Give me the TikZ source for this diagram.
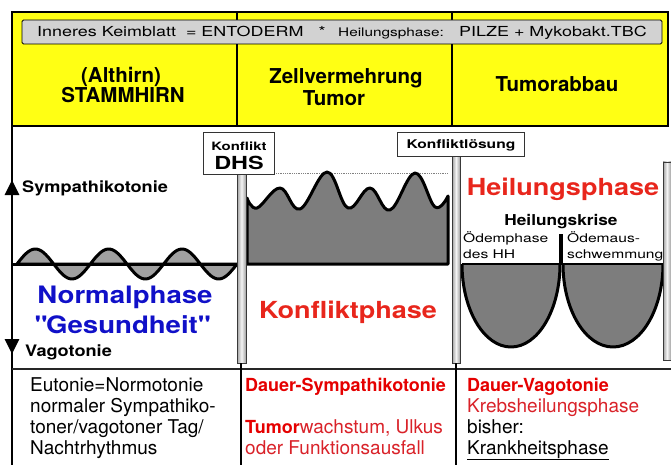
\documentclass[tikz,border=0pt]{standalone}
\usepackage{fontspec}
\setmainfont{TeX Gyre Heros}
\newfontfamily\widefont{TeX Gyre Heros}[FakeStretch=1.3]
\newfontfamily\semiwide{TeX Gyre Heros}[FakeStretch=1.15]
\usetikzlibrary{arrows.meta}

\definecolor{hdryellow}{HTML}{FFFF14}
\definecolor{bannergray}{HTML}{D2D2D2}
\definecolor{phasered}{HTML}{E8261C}
\definecolor{textred}{HTML}{D92229}
\definecolor{phaseblue}{HTML}{1010C8}
\definecolor{wavegray}{HTML}{A0A0A0}
\definecolor{massgray}{HTML}{7D7D7D}

\tikzset{
  hdr/.style={font=\fontsize{20.5}{24}\selectfont\bfseries, inner sep=0},
  bannertext/.style={font=\widefont\fontsize{13.8}{16}\selectfont, inner sep=0},
  axislabel/.style={font=\semiwide\fontsize{15.8}{19}\selectfont\bfseries, inner sep=0, anchor=base west},
  bigphase/.style={font=\semiwide\fontsize{23.5}{28}\selectfont\bfseries, inner sep=0, anchor=base},
  oedem/.style={font=\widefont\fontsize{12}{16}\selectfont, inner sep=0, anchor=base west},
  signbox/.style={draw=gray!40!black, fill=white, line width=0.9},
  signtext/.style={font=\widefont\bfseries, inner sep=0, anchor=base},
  pillar/.style={left color=gray!75, right color=gray!75, middle color=gray!8, draw=gray!45!black, line width=0.6},
  bottomtext/.style={anchor=north west, inner sep=0, align=left, font=\fontsize{19}{21}\selectfont},
  frame/.style={line width=2.8},
  outline/.style={line width=3, line join=round},
  axisarrow/.style={line width=2.8, -{Triangle[length=15pt, width=14pt]}},
}

\begin{document}
\begin{tikzpicture}[x=1pt, y=-1pt]
\useasboundingbox (0,0) rectangle (671,465);

\fill[hdryellow] (12,12) rectangle (668,126);
\draw[frame] (12,126) -- (12,12) -- (668,12) -- (668,126) -- cycle;
\draw[line width=2] (237,12) -- (237,126) (452,12) -- (452,126);
\draw[fill=bannergray, rounded corners=1.5, line width=0.9] (22,20) rectangle (662,44);

\node[bannertext, anchor=base west] (keimblatt) at (37,37) {Inneres Keimblatt \ = ENTODERM};
\node[bannertext, anchor=base] (stern) at (322,37) {*};
\node[bannertext, anchor=base west, font=\widefont\fontsize{11.8}{14}\selectfont] (hphase) at (338,37) {Heilungsphase:};
\node[bannertext, anchor=base west] (pilze) at (459,37) {PILZE + Mykobakt.TBC};

\node[hdr, anchor=base] (althirn) at (121,82.5) {(Althirn)};
\node[hdr, anchor=base] (stammhirn) at (123,103) {STAMMHIRN};
\node[hdr, anchor=base] (zellverm) at (346,83.5) {Zellvermehrung};
\node[hdr, anchor=base] (tumor) at (334,105.5) {Tumor};
\node[hdr, anchor=base] (tumorabbau) at (557,91.5) {Tumorabbau};

\draw[line width=2.8] (12,126) -- (12,465);
\coordinate (symptip) at (12,180);
\coordinate (vagotip) at (12,354);
\draw[axisarrow] (12,200) -- (symptip);
\draw[axisarrow] (12,334) -- (vagotip);
\node[axislabel] (sympathiko) at (22,193) {Sympathikotonie};
\node[axislabel] (vagotonie) at (25,356) {Vagotonie};

\filldraw[fill=wavegray, outline] (17,264) -- plot[domain=17:237, samples=100, smooth] (\x, {264-15*sin((\x-17)*4.909)}) -- cycle;
\draw[line width=3] (12,264) -- (237,264);
\node[font=\semiwide\fontsize{24}{28}\selectfont\bfseries, text=phaseblue, inner sep=0, anchor=base] (normal) at (125,303) {Normalphase};
\node[font=\semiwide\fontsize{24}{28}\selectfont\bfseries, text=phaseblue, inner sep=0, anchor=base] (gesund) at (122,333) {\textquotedbl Gesundheit\textquotedbl};

\draw[gray, densely dotted, line width=0.8] (249,173) -- (448,173);
\filldraw[fill=massgray, outline] (247,264) -- plot[smooth, tension=0.65] coordinates {(247,198) (257,208) (280,188) (300,209) (327,172) (348,208) (370,188) (390,210) (415,173) (435,207) (448,196)} -- (448,264) -- cycle;
\node[bigphase, text=phasered] (konfliktph) at (348,318) {Konfliktphase};

\node[bigphase, text=phasered] (heilungsph) at (563,195) {Heilungsphase};
\node[font=\semiwide\fontsize{15}{18}\selectfont\bfseries, inner sep=0, anchor=base] (krise) at (561,225) {Heilungskrise};
\node[oedem] (oedem1) at (463,242) {Ödemphase};
\node[oedem] (oedem2) at (463,258) {des HH};
\node[oedem] (oedem3) at (567,242) {Ödemaus-};
\node[oedem] (oedem4) at (567,258) {schwemmung};
\fill[massgray] (462,264) arc[start angle=180, end angle=0, x radius=49, y radius=83] -- cycle;
\fill[massgray] (563,264) arc[start angle=180, end angle=0, x radius=50, y radius=83] -- cycle;
\draw[outline] (462,264) arc[start angle=180, end angle=0, x radius=49, y radius=83];
\draw[outline] (563,264) arc[start angle=180, end angle=0, x radius=50, y radius=83];
\draw[line width=2] (462,264) -- (663,264);
\draw[line width=4] (561,234) -- (561,264);

\draw[pillar] (237,174) rectangle (246,363);
\draw[pillar] (452,156) rectangle (460,363);
\draw[pillar] (663,162) rectangle (671,360);

\draw[signbox] (203,132) rectangle (274,174);
\node[signtext, font=\widefont\fontsize{11.5}{14}\selectfont\bfseries] (konflikt) at (239,150) {Konflikt};
\node[signtext, font=\widefont\fontsize{18}{20}\selectfont\bfseries] (dhs) at (239,169) {DHS};
\draw[signbox] (397,132) rectangle (524,156);
\node[signtext, font=\widefont\fontsize{12}{14}\selectfont\bfseries] (loesung) at (461,148.5) {Konfliktlösung};

\draw[line width=1.2, gray!30!black] (12,369) -- (671,369);
\draw[line width=2.8] (241,363) -- (241,465) (456,363) -- (456,465);

\node[bottomtext] (eutonie) at (30,377.5) {Eutonie=Normotonie\\normaler Sympathiko-\\toner/vagotoner Tag/\\Nachtrhythmus};
\node[bottomtext, text=textred] (dauersymp) at (245,377.5) {{\fontsize{18}{21}\selectfont\bfseries\color{red!90!black}Dauer-Sympathikotonie}\\[21pt]{\fontsize{18}{21}\selectfont\bfseries\color{red!90!black}Tumor}wachstum, Ulkus\\oder Funktionsausfall};
\node[bottomtext] (dauervago) at (467,377.5) {{\fontsize{18}{21}\selectfont\bfseries\color{red!90!black}Dauer-Vagotonie}\\\textcolor{textred}{Krebsheilungsphase}\\bisher:\\\underline{Krankheitsphase}};
\end{tikzpicture}
\end{document}
